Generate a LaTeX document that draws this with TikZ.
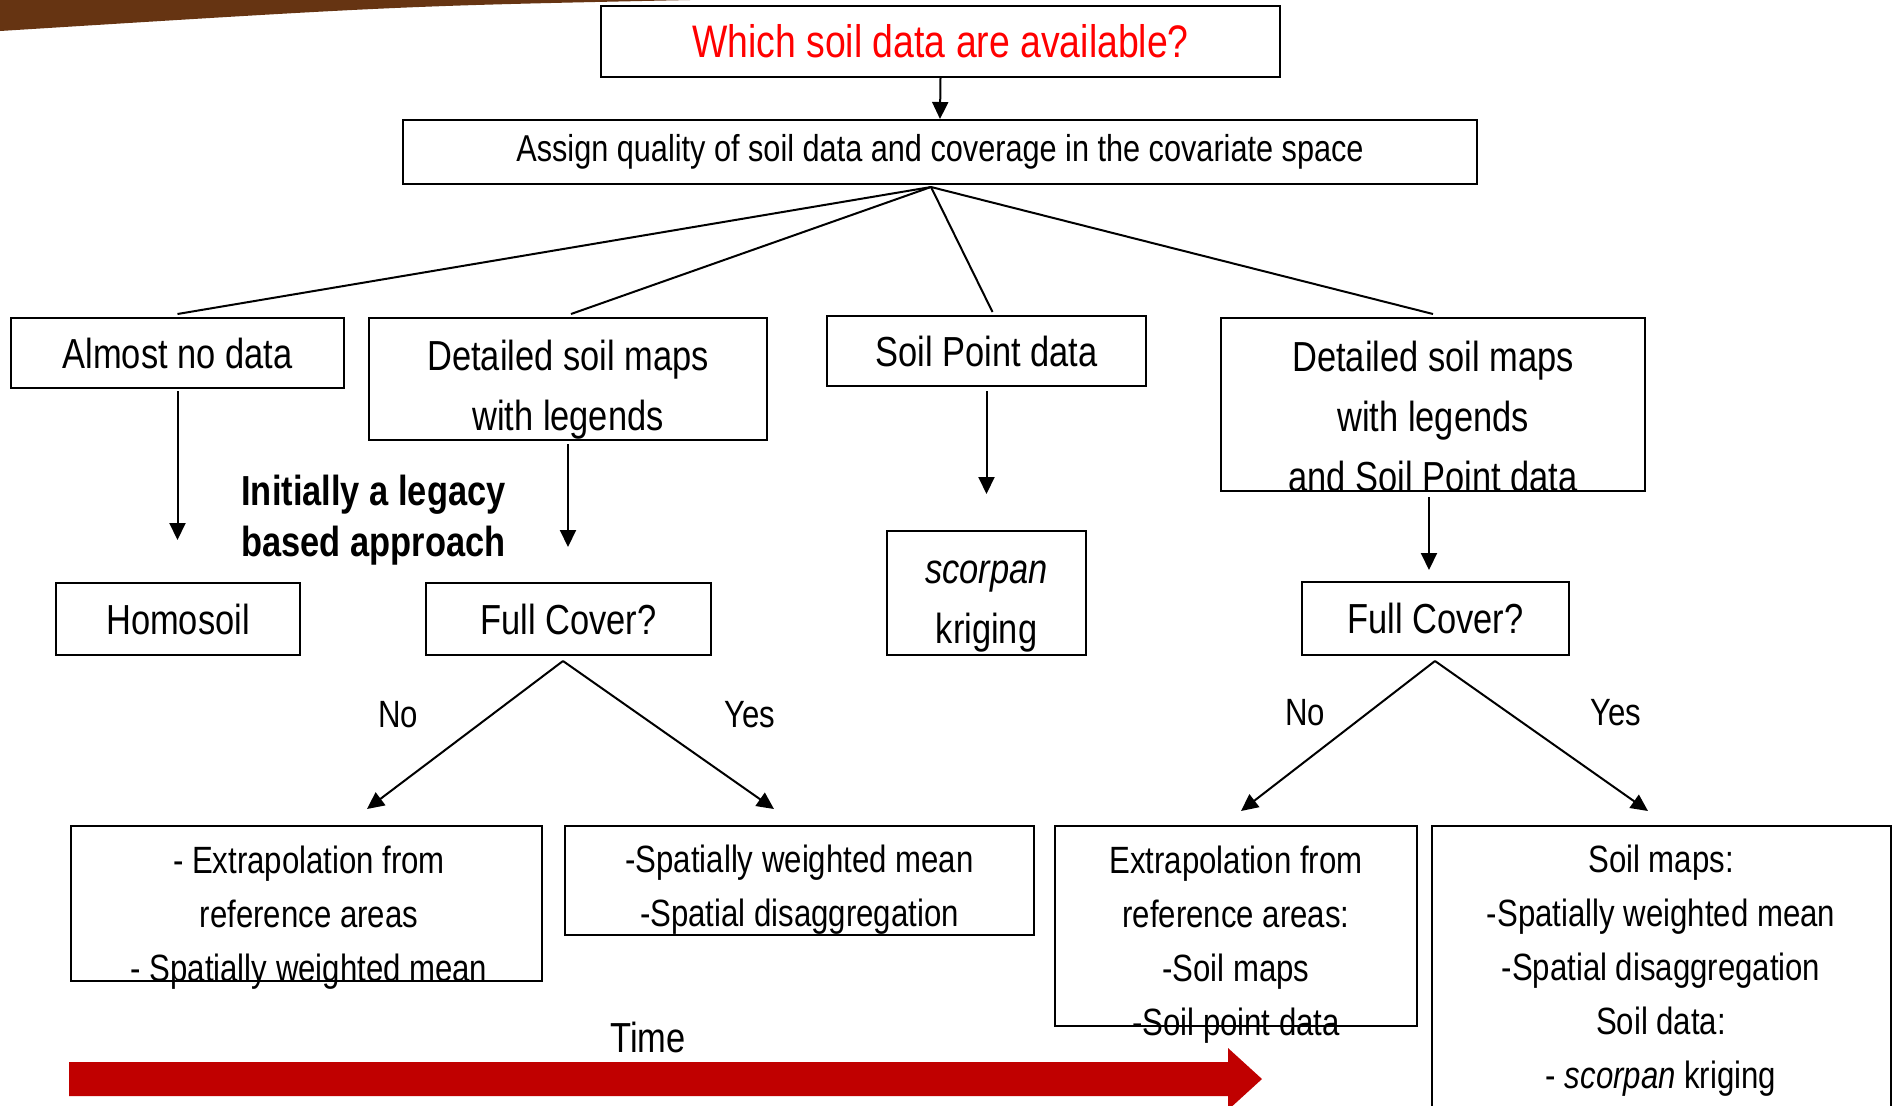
\documentclass[tikz,border=0pt]{standalone}
\usepackage{fontspec}
\setmainfont{Liberation Sans}[FakeStretch=0.82]
\usetikzlibrary{arrows.meta}
\definecolor{brownband}{RGB}{102,52,18}
\definecolor{timered}{RGB}{192,0,0}
\definecolor{titlered}{RGB}{255,0,0}
\begin{document}
\begin{tikzpicture}[x=0.5pt,y=-0.5pt,
 box/.style={draw, line width=1pt, inner sep=0pt, align=center, font=\fontsize{21}{30}\selectfont},
 txt/.style={inner sep=0pt, align=center, font=\fontsize{21}{30}\selectfont},
 btxt/.style={inner sep=0pt, align=center, font=\fontsize{19}{27}\selectfont},
 lbl/.style={inner sep=0pt, font=\fontsize{19}{23}\selectfont},
 arr/.style={line width=1pt, -{Triangle[length=8.5pt,width=8pt]}},
 fanline/.style={line width=1pt}]
\clip (0,0) rectangle (1897,1105);
\fill[white] (0,0) rectangle (1897,1105);
% brown band
\fill[brownband] (0,0) -- (690,0) .. controls (400,6) .. (0,31) -- cycle;

% boxes
\node[box, minimum width=339.5pt, minimum height=35.5pt, text=titlered,
      font=\fontsize{22.8}{28}\selectfont] (top) at (940.5,41.5) {Which soil data are available?};
\node[box, minimum width=537pt, minimum height=32pt,
      font=\fontsize{18.7}{22}\selectfont] (assign) at (940,152) {Assign quality of soil data and coverage in the covariate space};

\node[box, minimum width=166.5pt, minimum height=35pt] (almost) at (177.5,353) {Almost no data};
\node[box, minimum width=199pt, minimum height=61pt] (detL) at (568,379) {};
\node[txt] (detLt) at (568,390) {Detailed soil maps\\with legends};
\node[box, minimum width=159.5pt, minimum height=35pt] (soilpt) at (986.5,351) {Soil Point data};
\node[box, minimum width=212pt, minimum height=86.5pt] (detR) at (1433,404.5) {};
\node[txt] (detRt) at (1433,416) {Detailed soil maps\\with legends\\and Soil Point data};

\node[inner sep=0pt, anchor=west, align=left, font=\bfseries\fontsize{21}{25.5}\selectfont] (legacy) at (241,520.5) {Initially a legacy\\based approach};

\node[box, minimum width=122pt, minimum height=36pt] (homo) at (178,619) {Homosoil};
\node[box, minimum width=142.5pt, minimum height=36pt] (fcL) at (568.5,619) {Full Cover?};
\node[box, minimum width=99.5pt, minimum height=62pt] (scorp) at (986.5,593) {};
\node[txt] (scorpt) at (986.5,607) {\itshape scorpan\\kriging};
\node[box, minimum width=133.5pt, minimum height=36.5pt] (fcR) at (1435.5,618.5) {Full Cover?};

\node[box, minimum width=235.5pt, minimum height=77.5pt] (bL) at (306.5,903.5) {};
\node[btxt] (bLt) at (309,918) {- Extrapolation from\\reference areas\\- Spatially weighted mean};
\node[box, minimum width=234.5pt, minimum height=54.5pt] (bML) at (799.5,880.5) {};
\node[btxt] (bMLt) at (799.5,890) {-Spatially weighted mean\\-Spatial disaggregation};
\node[box, minimum width=181pt, minimum height=100pt] (bMR) at (1236,926) {};
\node[btxt] (bMRt) at (1236,945) {Extrapolation from\\reference areas:\\-Soil maps\\-Soil point data};
\node[box, minimum width=229.5pt, minimum height=150pt] (bR) at (1661.5,976) {};
\node[btxt] (bRt) at (1661,971) {Soil maps:\\-Spatially weighted mean\\-Spatial disaggregation\\Soil data:\\- \textit{scorpan} kriging};

% connectors
\draw[arr] (top.south) -- (assign.north);
\coordinate (fan) at (931,187);
\draw[fanline] (fan) -- ([yshift=1.5pt]almost.north);
\draw[fanline] (fan) -- ([yshift=1.5pt,xshift=1.5pt]detL.north);
\draw[fanline] (fan) -- ([yshift=1.5pt,xshift=3pt]soilpt.north);
\draw[fanline] (fan) -- ([yshift=1.5pt]detR.north);

\draw[arr, shorten <=1pt, shorten >=21pt] (almost.south) -- (homo.north -| almost.south);
\draw[arr, shorten <=1.5pt, shorten >=17.5pt] (detL.south) -- (fcL.north -| detL.south);
\draw[arr, shorten <=2pt, shorten >=18pt] (soilpt.south) -- (scorp.north);
\draw[arr, shorten <=2.5pt, shorten >=5.5pt] ([xshift=-2pt]detR.south) -- ([xshift=-2pt]fcR.north -| detR.south);

\coordinate (apL) at (563,661);
\coordinate (noL) at (367,809);
\coordinate (yesL) at (774,809);
\coordinate (apR) at (1435,661);
\coordinate (noR) at (1241,811);
\coordinate (yesR) at (1648,811);
\draw[arr] (apL) -- (noL);
\draw[arr] (apL) -- (yesL);
\draw[arr] (apR) -- (noR);
\draw[arr] (apR) -- (yesR);

\node[lbl] (noLt) at (398,715) {No};
\node[lbl] (yesLt) at (750,715) {Yes};
\node[lbl] (noRt) at (1305,713) {No};
\node[lbl] (yesRt) at (1616,713) {Yes};

% time arrow
\node[inner sep=0pt, font=\fontsize{21}{25}\selectfont] (time) at (648,1037) {Time};
\fill[timered] (69,1062) -- (1228,1062) -- (1228,1048) -- (1262,1079) -- (1228,1110) -- (1228,1096) -- (69,1096) -- cycle;
\end{tikzpicture}
\end{document}
